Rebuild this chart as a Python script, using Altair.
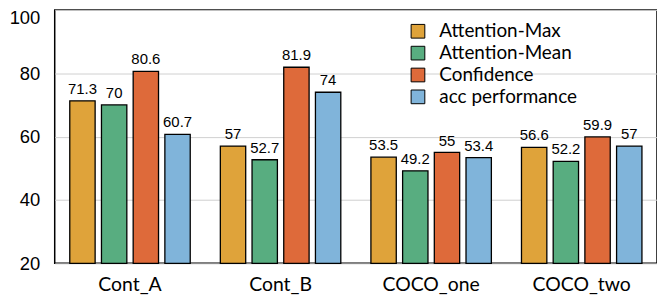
import altair as alt
import pandas as pd

categories = ["Cont_A", "Cont_B", "COCO_one", "COCO_two"]
series = ["Attention-Max", "Attention-Mean", "Confidence", "acc performance"]
att_max = [71.3, 57, 53.5, 56.6]
att_mean = [70, 52.7, 49.2, 52.2]
confidence = [80.6, 81.9, 55, 59.9]
acc_perf = [60.7, 74, 53.4, 57]
colors = ["#DFA33A", "#58AD80", "#DE6A3A", "#80B4DA"]

rows = []
for s, vals in zip(series, [att_max, att_mean, confidence, acc_perf]):
    for c, v in zip(categories, vals):
        rows.append({"cat": c, "series": s, "value": v, "label": f"{v:g}"})
df = pd.DataFrame(rows)

x = alt.X("cat:N", sort=categories, title=None,
          scale=alt.Scale(paddingInner=0.2, paddingOuter=0.1),
          axis=alt.Axis(labelAngle=0, ticks=False, domain=False, labelFont="Lato",
                        labelFontSize=19.5, labelColor="black", labelPadding=12, grid=False))
xo = alt.XOffset("series:N", sort=series, scale=alt.Scale(paddingInner=0.2, paddingOuter=0))
y = alt.Y("value:Q", title=None,
          scale=alt.Scale(domain=[20, 100], zero=False, nice=False),
          axis=alt.Axis(values=[20, 40, 60, 80, 100], ticks=False, domain=False,
                        labelFont="Liberation Sans", labelFontSize=18.5, labelColor="black",
                        labelPadding=15, gridColor="#d0d0d0", gridWidth=1,
                        labelOffset={"condition": {"test": "datum.value == 100", "value": 8},
                                     "value": 0}))

bars = alt.Chart(df).mark_bar(stroke="black", strokeWidth=1.3).encode(
    x=x, xOffset=xo, y=y, y2=alt.datum(20),
    color=alt.Color("series:N", sort=series,
                    scale=alt.Scale(domain=series, range=colors),
                    legend=alt.Legend(title=None, orient="none", legendX=356, legendY=12,
                                      symbolType="square", symbolSize=190,
                                      symbolStrokeColor="black", symbolStrokeWidth=1,
                                      labelFont="Lato", labelFontSize=19, labelColor="black",
                                      labelOffset=12, rowPadding=2, symbolOpacity=1)),
)

text = alt.Chart(df).mark_text(dy=-4, baseline="bottom", font="Liberation Sans",
                               fontSize=15, color="black").encode(
    x=alt.X("cat:N", sort=categories), xOffset=alt.XOffset("series:N", sort=series),
    y=alt.Y("value:Q"), text="label:N")

chart = alt.layer(bars, text).properties(
    width=606, height=255,
    autosize=alt.AutoSizeParams(type="none"),
    padding={"left": 47, "top": 1, "right": 0, "bottom": 40},
).configure_view(stroke="black", strokeWidth=1.5)

chart.save("out.html", embed_options={"renderer": "svg", "actions": False})
